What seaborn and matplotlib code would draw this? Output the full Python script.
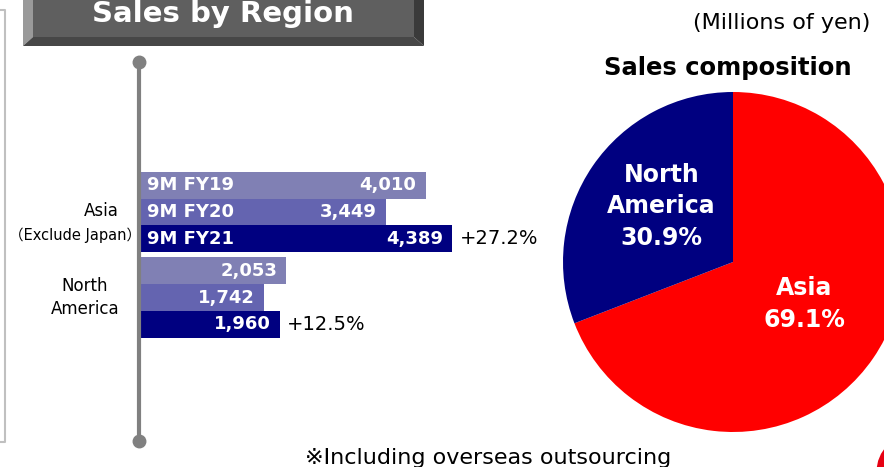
import numpy as np
import pandas as pd
import matplotlib
matplotlib.use("Agg")
import matplotlib.pyplot as plt
from matplotlib.patches import Polygon, Ellipse
from matplotlib.lines import Line2D
import seaborn as sns

regions = ["Asia", "North America"]
periods = ["9M FY19", "9M FY20", "9M FY21"]
asia_sales = [4010, 3449, 4389]
na_sales = [2053, 1742, 1960]
bar_colors = ["#8080b4", "#6464b0", "#000080"]
pie_colors = ["#ff0000", "#000080"]

sns.set_theme(style="white")
plt.rcParams["font.family"] = ["DejaVu Sans", "Noto Sans CJK JP"]
plt.rcParams["text.color"] = "black"

W, H = 884, 467
fig = plt.figure(figsize=(W / 100, H / 100), dpi=100)


def fx(px):
    return px / W


def fy(py):
    return 1 - py / H


df = pd.DataFrame({
    "region": np.repeat(regions, len(periods)),
    "period": periods * len(regions),
    "sales": asia_sales + na_sales,
})

# --- bar panel ---
ax = fig.add_axes([fx(140), fy(360), fx(560) - fx(140), fy(150) - fy(360)])
sns.barplot(data=df, x="sales", y="region", hue="period", orient="h",
            palette=bar_colors, width=0.94, saturation=1, legend=False,
            linewidth=0, ax=ax)
ax.set_xlim(0, 420 / 0.0712)
ax.set_ylim(1 + (360 - 297.5) / 85.5, -(212 - 150) / 85.5)
ax.axis("off")

for i, cont in enumerate(ax.containers):
    for j, bar in enumerate(cont):
        val = bar.get_width()
        yc = bar.get_y() + bar.get_height() / 2
        ax.annotate(f"{val:,.0f}", (val, yc), xytext=(-6.5, 0),
                    textcoords="offset points", ha="right", va="center",
                    color="white", fontweight="bold", fontsize=13)
        if j == 0:
            ax.annotate(periods[i], (0, yc), xytext=(5, 0),
                        textcoords="offset points", ha="left", va="center",
                        color="white", fontweight="bold", fontsize=13)

# growth vs previous year (truncated to one decimal)
for j, vals in enumerate([asia_sales, na_sales]):
    bar = ax.containers[-1][j]
    growth = np.floor((vals[-1] / vals[-2] - 1) * 1000) / 10
    ax.annotate(f"+{growth:.1f}%",
                (bar.get_width(), bar.get_y() + bar.get_height() / 2),
                xytext=(5, 0), textcoords="offset points", ha="left",
                va="center", fontsize=14, color="black")

# category labels
tr = ax.get_yaxis_transform()
ax.text((101 - 140) / 420, -0.01, "Asia", transform=tr, ha="center",
        va="center", fontsize=12, clip_on=False)
ax.text((75 - 140) / 420, 0.27, "（Exclude Japan）", transform=tr,
        ha="center", va="center", fontsize=10.5, clip_on=False)
ax.text((85 - 140) / 420, 1.0, "North\nAmerica", transform=tr, ha="center",
        va="center", fontsize=12, linespacing=1.35, clip_on=False)

# vertical axis line with round ends
fig.add_artist(Line2D([fx(139), fx(139)], [fy(62), fy(441)], lw=3,
                      color="#808080", marker="o", markersize=9,
                      transform=fig.transFigure, zorder=5))

# --- pie panel ---
share = [asia_sales[-1], na_sales[-1]]
total = sum(share)
pie_labels = [f"{r.replace(' ', chr(10))}\n{100 * s / total:.1f}%"
              for r, s in zip(regions, share)]
pax = fig.add_axes([fx(563), fy(432), 340 / W, 340 / H])
wedges, texts = pax.pie(share, colors=pie_colors, startangle=90,
                        counterclock=False, labels=pie_labels,
                        labeldistance=0.51, wedgeprops=dict(linewidth=0),
                        textprops=dict(color="white", fontweight="bold",
                                       fontsize=17, linespacing=1.4))
for t in texts:
    x, y = t.get_position()
    t.set_position((x, y + 0.04))
    t.set_ha("center")
    t.set_va("center")
    t.set_multialignment("center")
pax.set_xlim(-1, 1)
pax.set_ylim(-1, 1)

# --- title box ---
box = [
    ([(33, -5), (414, -5), (414, 37), (33, 37)], "#5f5f5f"),
    ([(23, -5), (33, -5), (33, 37), (23, 46)], "#9a9a9a"),
    ([(23, 46), (33, 37), (414, 37), (424, 46)], "#474747"),
    ([(414, -5), (424, -5), (424, 46), (414, 37)], "#3a3a3a"),
]
for pts, c in box:
    fig.add_artist(Polygon([(fx(x), fy(y)) for x, y in pts], closed=True,
                           facecolor=c, edgecolor="none",
                           transform=fig.transFigure))
fig.text(fx(223), fy(22), "Sales by Region", ha="center", va="baseline",
         color="white", fontweight="bold", fontsize=21)

# left frame
fig.add_artist(Line2D([0, fx(5), fx(5), 0], [fy(10), fy(10), fy(442), fy(442)],
                      lw=1.5, color="#c0c0c0", transform=fig.transFigure))

fig.text(fx(870), fy(23), "(Millions of yen)", ha="right", va="center",
         fontsize=16)
fig.text(fx(728), fy(68), "Sales composition", ha="center", va="center",
         fontweight="bold", fontsize=17.5)
fig.text(fx(305), fy(464), "※Including overseas outsourcing", ha="left",
         va="baseline", fontsize=16)

# logo edge bottom-right
fig.add_artist(Ellipse((fx(915), fy(472)), 2 * 38.5 / W, 2 * 38.5 / H,
                       facecolor="#e60012", edgecolor="none",
                       transform=fig.transFigure))

fig.savefig("out.png", dpi=100)
